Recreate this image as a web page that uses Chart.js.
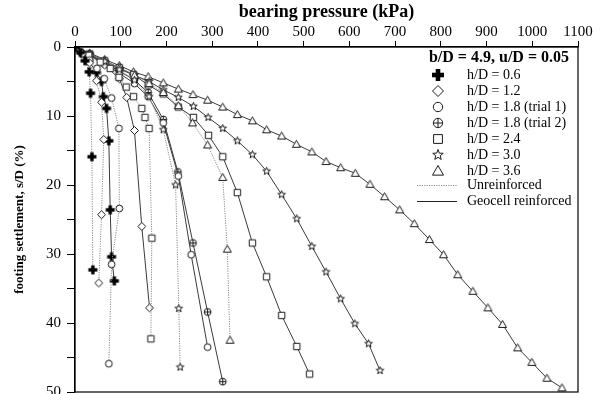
<!DOCTYPE html>
<html>
<head>
<meta charset="utf-8">
<script src="https://cdn.jsdelivr.net/npm/chart.js@4.4.1/dist/chart.umd.min.js"></script>
<style>
  html, body { margin: 0; padding: 0; background: #fff; }
  #wrap { width: 604px; height: 394px; }
</style>
</head>
<body>
<div id="wrap"><canvas id="chart" width="604" height="394"></canvas></div>
<script>
// axis ticks
const xTicks = [0, 100, 200, 300, 400, 500, 600, 700, 800, 900, 1000, 1100];
const yTicks = [0, 10, 20, 30, 40, 50];

// h/D = 0.6
const p06u = [0, 12, 22, 31, 34, 37, 39];
const s06u = [0, 0.8, 2.0, 3.6, 6.7, 15.9, 32.3];
const p06g = [0, 15, 30, 47, 58, 62, 69, 74, 77, 80, 86];
const s06g = [0, 0.9, 2.0, 3.7, 5.0, 7.2, 8.9, 13.6, 23.6, 30.4, 33.9];

// h/D = 1.2
const p12u = [0, 16, 32, 47, 58, 63, 58, 52];
const s12u = [0, 1.0, 2.3, 4.9, 8.0, 13.4, 24.3, 34.2];
const p12g = [0, 32, 65, 97, 113, 130, 146, 163];
const s12g = [0, 1.2, 2.6, 4.6, 7.3, 12.1, 26.0, 37.8];

// h/D = 1.8 (trial 1)
const p18u = [0, 16, 32, 48, 64, 80, 96, 97, 80, 74];
const s18u = [0, 0.9, 1.9, 3.1, 4.6, 7.4, 11.8, 23.4, 31.5, 45.9];
const p18g = [0, 32, 65, 97, 130, 160, 193, 226, 254, 290];
const s18g = [0, 1.2, 2.5, 3.8, 5.3, 7.2, 11.0, 18.7, 30.1, 43.5];

// h/D = 1.8 (trial 2)
const p18g2 = [0, 32, 65, 97, 130, 160, 193, 225, 258, 290, 323];
const s18g2 = [0, 1.1, 2.3, 3.5, 4.8, 6.6, 10.5, 18.1, 28.4, 38.4, 48.5];

// h/D = 2.4
const p24u = [0, 30, 55, 77, 96, 112, 128, 146, 153, 162, 168, 166];
const s24u = [0, 1.2, 2.2, 3.1, 4.4, 5.8, 7.2, 8.9, 10.2, 11.8, 27.7, 42.3];
const p24g = [0, 32, 65, 97, 128, 160, 193, 226, 259, 292, 323, 355, 388, 419, 452, 485, 513];
const s24g = [0, 1.0, 2.0, 3.0, 4.0, 5.5, 6.8, 8.7, 10.2, 12.8, 15.9, 21.1, 28.4, 33.3, 38.9, 43.4, 47.4];

// h/D = 3.0
const p30u = [0, 32, 65, 97, 130, 162, 193, 220, 227, 230];
const s30u = [0, 1.0, 2.1, 3.3, 4.8, 7.2, 12.0, 20.0, 37.9, 46.4];
const p30g = [0, 32, 65, 97, 130, 162, 193, 226, 259, 291, 323, 355, 388, 419, 452, 485, 518, 549, 581, 612, 642, 667];
const s30g = [0, 1.1, 2.2, 3.2, 4.1, 5.0, 6.2, 7.3, 8.6, 10.2, 11.8, 13.6, 15.6, 18.0, 21.4, 24.9, 28.9, 32.6, 36.5, 40.1, 43.0, 46.9];

// h/D = 3.6
const p36u = [0, 32, 65, 97, 130, 162, 193, 226, 257, 290, 323, 333, 339];
const s36u = [0, 1.0, 2.0, 3.0, 4.1, 5.3, 6.6, 8.5, 11.0, 14.2, 18.9, 29.3, 42.5];
const p36g = [0, 32, 65, 97, 128, 160, 193, 226, 258, 290, 323, 355, 388, 419, 452, 484, 518, 549, 581, 613, 645, 677, 710, 742, 775, 806, 837, 870, 903, 935, 968, 999, 1032, 1065];
const s36g = [0, 0.9, 1.8, 2.7, 3.6, 4.3, 5.2, 6.1, 6.9, 7.7, 8.7, 9.8, 10.7, 12.0, 12.9, 14.1, 15.2, 16.6, 17.5, 18.3, 19.9, 21.7, 23.6, 25.6, 27.9, 30.1, 33.0, 35.4, 37.8, 40.2, 43.6, 45.7, 48.0, 49.4];

const legendLabels = ['h/D = 0.6', 'h/D = 1.2', 'h/D = 1.8 (trial 1)', 'h/D = 1.8 (trial 2)', 'h/D = 2.4', 'h/D = 3.0', 'h/D = 3.6'];
const legendKinds = ['plus', 'diamond', 'circle', 'circleplus', 'square', 'star', 'triangle'];

const FONT = "'Liberation Serif', 'DejaVu Serif', serif";
const INK = '#1a1a1a';
const DOT = '#8a8a8a';

// marker shapes
function drawMarker(ctx, kind, cx, cy, r) {
  ctx.save();
  ctx.lineWidth = 1;
  ctx.strokeStyle = INK;
  ctx.fillStyle = '#fff';
  ctx.beginPath();
  if (kind === 'plus') {
    const t = r * 0.38;
    ctx.fillStyle = '#000';
    ctx.fillRect(cx - r, cy - t, 2 * r, 2 * t);
    ctx.fillRect(cx - t, cy - r, 2 * t, 2 * r);
    ctx.restore();
    return;
  } else if (kind === 'diamond') {
    ctx.moveTo(cx, cy - r); ctx.lineTo(cx + r, cy); ctx.lineTo(cx, cy + r); ctx.lineTo(cx - r, cy);
    ctx.closePath();
  } else if (kind === 'circle' || kind === 'circleplus') {
    ctx.arc(cx, cy, r * 0.85, 0, Math.PI * 2);
  } else if (kind === 'square') {
    const h = r * 0.8;
    ctx.rect(cx - h, cy - h, 2 * h, 2 * h);
  } else if (kind === 'triangle') {
    ctx.moveTo(cx, cy - r); ctx.lineTo(cx + r, cy + r * 0.75); ctx.lineTo(cx - r, cy + r * 0.75);
    ctx.closePath();
  } else if (kind === 'star') {
    for (let i = 0; i < 10; i++) {
      const rr = i % 2 === 0 ? r : r * 0.42;
      const a = -Math.PI / 2 + i * Math.PI / 5;
      const x = cx + rr * Math.cos(a), y = cy + rr * Math.sin(a);
      if (i === 0) ctx.moveTo(x, y); else ctx.lineTo(x, y);
    }
    ctx.closePath();
  }
  ctx.fill();
  ctx.stroke();
  if (kind === 'circleplus') {
    ctx.beginPath();
    ctx.moveTo(cx - r * 0.85, cy); ctx.lineTo(cx + r * 0.85, cy);
    ctx.moveTo(cx, cy - r * 0.85); ctx.lineTo(cx, cy + r * 0.85);
    ctx.stroke();
  }
  ctx.restore();
}

function markerImage(kind, r) {
  const c = document.createElement('canvas');
  const s = Math.ceil(2 * r + 3);
  c.width = s; c.height = s;
  drawMarker(c.getContext('2d'), kind, s / 2, s / 2, r);
  return c;
}

function zip(px, sy) {
  return px.map((p, i) => ({ x: p, y: sy[i] }));
}

function series(px, sy, kind, reinforced) {
  return {
    data: zip(px, sy),
    showLine: true,
    borderColor: reinforced ? '#3a3a3a' : DOT,
    borderWidth: 1,
    borderDash: reinforced ? [] : [1.2, 1.2],
    pointStyle: markerImage(kind, kind === 'plus' ? 4.5 : 4),
    pointRadius: 4,
    tension: 0,
    fill: false
  };
}

const datasets = [
  series(p06u, s06u, 'plus', false),
  series(p12u, s12u, 'diamond', false),
  series(p18u, s18u, 'circle', false),
  series(p24u, s24u, 'square', false),
  series(p30u, s30u, 'star', false),
  series(p36u, s36u, 'triangle', false),
  series(p06g, s06g, 'plus', true),
  series(p12g, s12g, 'diamond', true),
  series(p18g, s18g, 'circle', true),
  series(p18g2, s18g2, 'circleplus', true),
  series(p24g, s24g, 'square', true),
  series(p30g, s30g, 'star', true),
  series(p36g, s36g, 'triangle', true)
];

// frame around the plot and the legend box
const framePlugin = {
  id: 'frame',
  afterDraw(chart) {
    const { ctx, chartArea: a } = chart;
    ctx.save();
    ctx.strokeStyle = '#000';
    ctx.lineWidth = 1.2;
    ctx.strokeRect(a.left, a.top, a.right - a.left, a.bottom - a.top);

    // legend
    ctx.fillStyle = '#000';
    ctx.textBaseline = 'middle';
    ctx.font = 'bold 16px ' + FONT;
    ctx.textAlign = 'right';
    ctx.fillText('b/D = 4.9, u/D = 0.05', 569, 58);
    ctx.textAlign = 'left';
    ctx.font = '14px ' + FONT;
    const mx = 438, tx = 467;
    legendLabels.forEach((lab, i) => {
      const y = 75 + i * 16;
      drawMarker(ctx, legendKinds[i], mx, y, legendKinds[i] === 'plus' ? 6 : 5.5);
      ctx.fillStyle = '#000';
      ctx.fillText(lab, tx, y);
    });
    ctx.strokeStyle = DOT;
    ctx.lineWidth = 1;
    ctx.setLineDash([1.2, 1.2]);
    ctx.beginPath(); ctx.moveTo(417, 185.5); ctx.lineTo(457, 185.5); ctx.stroke();
    ctx.setLineDash([]);
    ctx.strokeStyle = '#222';
    ctx.beginPath(); ctx.moveTo(417, 201.5); ctx.lineTo(457, 201.5); ctx.stroke();
    ctx.fillText('Unreinforced', tx, 185);
    ctx.fillText('Geocell reinforced', tx, 201);
    ctx.restore();
  }
};

new Chart(document.getElementById('chart'), {
  type: 'scatter',
  data: { datasets },
  plugins: [framePlugin],
  options: {
    responsive: false,
    animation: false,
    layout: { autoPadding: false, padding: { left: 0, right: 26, top: 0, bottom: 2 } },
    plugins: { legend: { display: false }, tooltip: { enabled: false } },
    scales: {
      x: {
        type: 'linear',
        position: 'top',
        min: 0,
        max: 1100,
        afterBuildTicks: s => { s.ticks = xTicks.map(v => ({ value: v })); },
        afterFit: s => { s.height = 47; },
        grid: { drawOnChartArea: false, drawTicks: true, tickLength: 6, color: '#000', lineWidth: 1 },
        border: { display: true, color: '#000', width: 1.2 },
        ticks: {
          color: '#000',
          font: { family: FONT, size: 15 },
          padding: 0,
          maxRotation: 0,
          callback: v => String(v)
        },
        title: {
          display: true,
          text: 'bearing pressure (kPa)',
          color: '#000',
          font: { family: FONT, size: 18, weight: 'bold' },
          padding: { top: 2, bottom: 0 }
        }
      },
      y: {
        type: 'linear',
        reverse: true,
        min: 0,
        max: 50,
        afterBuildTicks: s => {
          const t = [];
          for (let v = 0; v <= 50; v += 5) t.push({ value: v });
          s.ticks = t;
        },
        afterFit: s => {
          s.width = 75;
          s.paddingTop = 0;
          s.paddingBottom = 0;
        },
        grid: { drawOnChartArea: false, drawTicks: true, tickLength: 8, color: '#000', lineWidth: 1 },
        border: { display: true, color: '#000', width: 1.2 },
        ticks: {
          color: '#000',
          font: { family: FONT, size: 15 },
          padding: 6,
          callback: v => (yTicks.includes(v) ? String(v) : '')
        },
        title: {
          display: true,
          text: 'footing settlement, s/D (%)',
          color: '#000',
          font: { family: FONT, size: 13, weight: 'bold' },
          padding: { top: 12, bottom: 0 }
        }
      }
    }
  }
});
</script>
</body>
</html>
